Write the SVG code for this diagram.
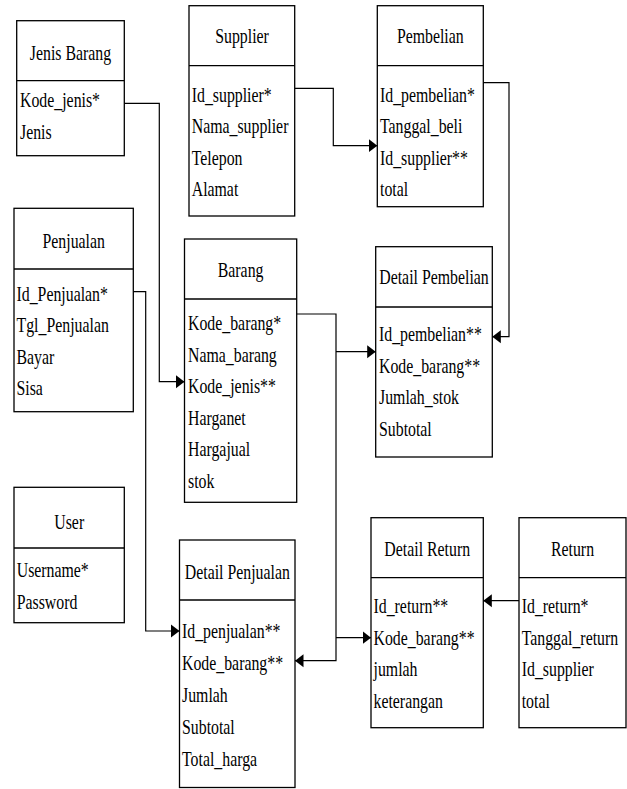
<svg xmlns="http://www.w3.org/2000/svg" width="627" height="789" viewBox="0 0 627 789" font-family="'Liberation Serif', Tinos, 'Times New Roman', Times, 'DejaVu Serif', serif">
<defs>
<style>
rect.b{fill:#fff;stroke:#000;stroke-width:1.3}
line.d{stroke:#000;stroke-width:1.3}
text{font-family:'Liberation Serif', Tinos, 'Times New Roman', Times, 'DejaVu Serif', serif;font-size:22px;fill:#000}
text.t{text-anchor:middle}
.c path{fill:none;stroke:#000;stroke-width:1.2}
</style>
<marker id="a" markerUnits="userSpaceOnUse" markerWidth="10" markerHeight="14" refX="8.5" refY="7" orient="auto">
<path d="M0,0.5 L8.5,7 L0,13.5 z" fill="#000"/>
</marker>
</defs>
<rect width="627" height="789" fill="#fff"/>

<g id="jenis-barang">
<rect class="b" x="16.7" y="20.7" width="107.6" height="135"/>
<line class="d" x1="16.7" y1="80.7" x2="124.3" y2="80.7"/>
<text class="t" transform="matrix(.72 0 0 1 70.5 59.5)">Jenis Barang</text>
<text transform="matrix(.72 0 0 1 20 107)">Kode_jenis*</text>
<text transform="matrix(.72 0 0 1 20 138.5)">Jenis</text>
</g>

<g id="supplier">
<rect class="b" x="189" y="5.7" width="105.7" height="210.3"/>
<line class="d" x1="189" y1="65.7" x2="294.7" y2="65.7"/>
<text class="t" transform="matrix(.72 0 0 1 242 43)">Supplier</text>
<text transform="matrix(.72 0 0 1 191.7 101.5)">Id_supplier*</text>
<text transform="matrix(.72 0 0 1 191.7 133)">Nama_supplier</text>
<text transform="matrix(.72 0 0 1 191.7 164.5)">Telepon</text>
<text transform="matrix(.72 0 0 1 191.7 196)">Alamat</text>
</g>

<g id="pembelian">
<rect class="b" x="377.3" y="5.7" width="106" height="201"/>
<line class="d" x1="377.3" y1="65.7" x2="483.3" y2="65.7"/>
<text class="t" transform="matrix(.72 0 0 1 430.3 43)">Pembelian</text>
<text transform="matrix(.72 0 0 1 380 101.5)">Id_pembelian*</text>
<text transform="matrix(.72 0 0 1 380 133)">Tanggal_beli</text>
<text transform="matrix(.72 0 0 1 380 164.5)">Id_supplier**</text>
<text transform="matrix(.72 0 0 1 380 196)">total</text>
</g>

<g id="penjualan">
<rect class="b" x="14" y="208.3" width="119.3" height="203.4"/>
<line class="d" x1="14" y1="269" x2="133.3" y2="269"/>
<text class="t" transform="matrix(.72 0 0 1 73.7 247.5)">Penjualan</text>
<text transform="matrix(.72 0 0 1 16.5 300.5)">Id_Penjualan*</text>
<text transform="matrix(.72 0 0 1 16.5 332)">Tgl_Penjualan</text>
<text transform="matrix(.72 0 0 1 16.5 363.5)">Bayar</text>
<text transform="matrix(.72 0 0 1 16.5 395)">Sisa</text>
</g>

<g id="barang">
<rect class="b" x="184.5" y="239" width="112.2" height="263.3"/>
<line class="d" x1="184.5" y1="299" x2="296.7" y2="299"/>
<text class="t" transform="matrix(.72 0 0 1 240.6 277.3)">Barang</text>
<text transform="matrix(.72 0 0 1 188 330)">Kode_barang*</text>
<text transform="matrix(.72 0 0 1 188 361.5)">Nama_barang</text>
<text transform="matrix(.72 0 0 1 188 393)">Kode_jenis**</text>
<text transform="matrix(.72 0 0 1 188 424.5)">Harganet</text>
<text transform="matrix(.72 0 0 1 188 456)">Hargajual</text>
<text transform="matrix(.72 0 0 1 188 487.5)">stok</text>
</g>

<g id="detail-pembelian">
<rect class="b" x="375.7" y="246.7" width="116.6" height="210.3"/>
<line class="d" x1="375.7" y1="307" x2="492.3" y2="307"/>
<text class="t" transform="matrix(.72 0 0 1 434 283.5)">Detail Pembelian</text>
<text transform="matrix(.72 0 0 1 379 341)">Id_pembelian**</text>
<text transform="matrix(.72 0 0 1 379 372.5)">Kode_barang**</text>
<text transform="matrix(.72 0 0 1 379 404)">Jumlah_stok</text>
<text transform="matrix(.72 0 0 1 379 435.5)">Subtotal</text>
</g>

<g id="user">
<rect class="b" x="14" y="487.3" width="110.3" height="135.4"/>
<line class="d" x1="14" y1="548" x2="124.3" y2="548"/>
<text class="t" transform="matrix(.72 0 0 1 69.2 529)">User</text>
<text transform="matrix(.72 0 0 1 16.7 577)">Username*</text>
<text transform="matrix(.72 0 0 1 16.7 608.5)">Password</text>
</g>

<g id="detail-penjualan">
<rect class="b" x="179.5" y="540" width="115.5" height="247.5"/>
<line class="d" x1="179.5" y1="600" x2="295" y2="600"/>
<text class="t" transform="matrix(.72 0 0 1 237.3 578.5)">Detail Penjualan</text>
<text transform="matrix(.72 0 0 1 182 638)">Id_penjualan**</text>
<text transform="matrix(.72 0 0 1 182 670)">Kode_barang**</text>
<text transform="matrix(.72 0 0 1 182 702)">Jumlah</text>
<text transform="matrix(.72 0 0 1 182 734)">Subtotal</text>
<text transform="matrix(.72 0 0 1 182 766)">Total_harga</text>
</g>

<g id="detail-return">
<rect class="b" x="371" y="517.7" width="112.3" height="210"/>
<line class="d" x1="371" y1="577.7" x2="483.3" y2="577.7"/>
<text class="t" transform="matrix(.72 0 0 1 427.2 556)">Detail Return</text>
<text transform="matrix(.72 0 0 1 373.5 613)">Id_return**</text>
<text transform="matrix(.72 0 0 1 373.5 644.5)">Kode_barang**</text>
<text transform="matrix(.72 0 0 1 373.5 676)">jumlah</text>
<text transform="matrix(.72 0 0 1 373.5 707.5)">keterangan</text>
</g>

<g id="return">
<rect class="b" x="519" y="517.7" width="107" height="210"/>
<line class="d" x1="519" y1="577.7" x2="626" y2="577.7"/>
<text class="t" transform="matrix(.72 0 0 1 572.5 556)">Return</text>
<text transform="matrix(.72 0 0 1 521.7 613)">Id_return*</text>
<text transform="matrix(.72 0 0 1 521.7 644.5)">Tanggal_return</text>
<text transform="matrix(.72 0 0 1 521.7 676)">Id_supplier</text>
<text transform="matrix(.72 0 0 1 521.7 707.5)">total</text>
</g>

<g id="connectors" class="c">
<path d="M295,88.3 H333.3 V145.7 H377.3" marker-end="url(#a)"/>
<path d="M483.3,82.7 H509 V336.7 H492.3" marker-end="url(#a)"/>
<path d="M124.3,103.3 H159.3 V381.7 H184.5" marker-end="url(#a)"/>
<path d="M133.3,291.7 H145.7 V631 H179.5" marker-end="url(#a)"/>
<path d="M296.7,314 H336 V660.7 H295" marker-end="url(#a)"/>
<path d="M336,351.7 H375.7" marker-end="url(#a)"/>
<path d="M336,637.7 H371" marker-end="url(#a)"/>
<path d="M519,600.7 H483.3" marker-end="url(#a)"/>
</g>
</svg>
